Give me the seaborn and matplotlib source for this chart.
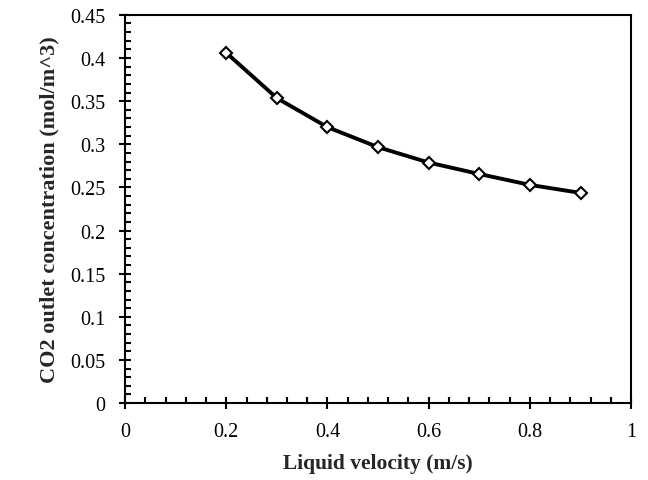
import matplotlib
matplotlib.use("Agg")
import matplotlib.pyplot as plt
import seaborn as sns
import pandas as pd
from matplotlib.ticker import MultipleLocator, FuncFormatter

velocity = [0.2, 0.3, 0.4, 0.5, 0.6, 0.7, 0.8, 0.9]
co2_outlet = [0.406, 0.3535, 0.3198, 0.2966, 0.2788, 0.2655, 0.2529, 0.2436]
x_label = "Liquid velocity (m/s)"
y_label = "CO2 outlet concentration (mol/m^3)"

sns.set_theme(style="white")
plt.rcParams['font.family'] = ['Liberation Serif', 'DejaVu Serif']

df = pd.DataFrame({"v": velocity, "c": co2_outlet})
fig = plt.figure(figsize=(6.48, 4.81), dpi=100)
ax = fig.add_axes([0.193, 0.160, 0.781, 0.807])
sns.lineplot(data=df, x="v", y="c", ax=ax, color="black", linewidth=2.8,
             marker="D", markersize=6, markerfacecolor="white",
             markeredgecolor="black", markeredgewidth=1.5)

ax.set_xlim(0, 1)
ax.set_ylim(0, 0.45)
ax.xaxis.set_major_locator(MultipleLocator(0.2))
ax.xaxis.set_minor_locator(MultipleLocator(0.04))
ax.yaxis.set_major_locator(MultipleLocator(0.05))
ax.yaxis.set_minor_locator(MultipleLocator(0.01))

def fmt(v, pos):
    s = f"{v:.2f}".rstrip("0").rstrip(".")
    return s if s else "0"
ax.xaxis.set_major_formatter(FuncFormatter(fmt))
ax.yaxis.set_major_formatter(FuncFormatter(fmt))

for s in ax.spines.values():
    s.set_color("black")
    s.set_linewidth(1.5)
ax.tick_params(which="major", direction="inout", length=8, width=1.5,
               labelsize=14.5, colors="black", pad=10)
ax.tick_params(which="minor", direction="in", length=4, width=1.5, colors="black")
ax.tick_params(top=False, right=False, which="both", bottom=True, left=True)

ax.set_xlabel(x_label, fontsize=15.5, fontweight="bold", labelpad=8)
ax.set_ylabel(y_label, fontsize=16, fontweight="bold", labelpad=8)

fig.savefig("out.png", dpi=100)
